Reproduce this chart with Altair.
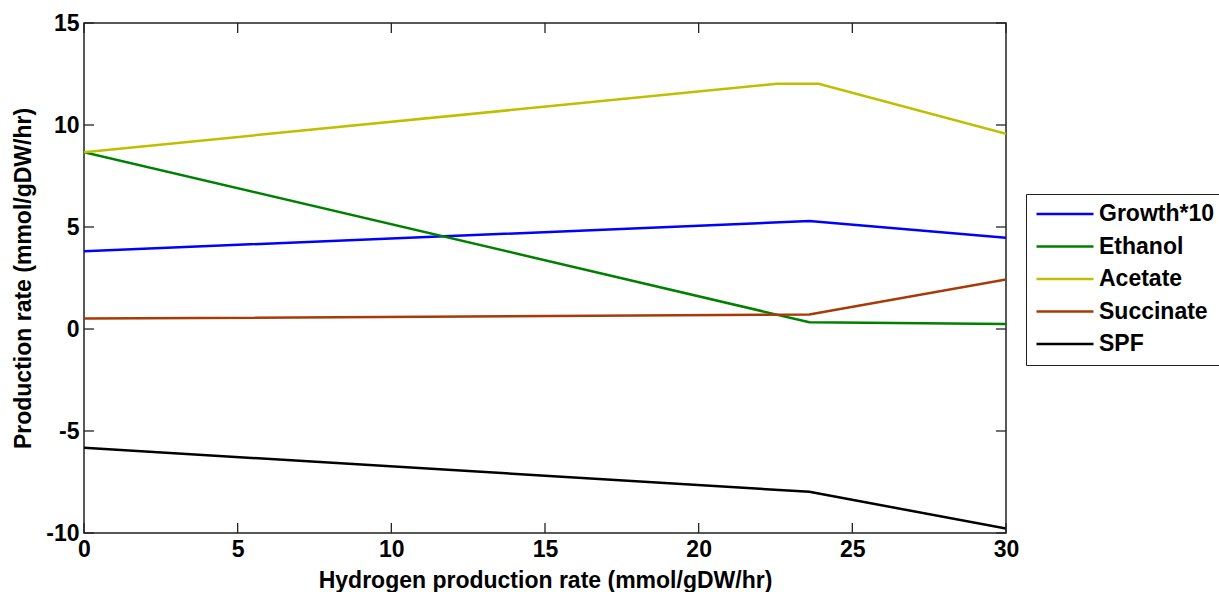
import altair as alt
import pandas as pd

# ---- data ----
series_names = ["Growth*10", "Ethanol", "Acetate", "Succinate", "SPF"]
series_colors = ["#0000FF", "#008000", "#BFBF00", "#A83A06", "#000000"]

x_growth = [0, 23.6, 30]
y_growth = [3.81, 5.29, 4.47]

x_ethanol = [0, 23.6, 30]
y_ethanol = [8.67, 0.33, 0.25]

x_acetate = [0, 22.55, 23.9, 30]
y_acetate = [8.67, 12.02, 12.02, 9.57]

x_succinate = [0, 23.6, 30]
y_succinate = [0.51, 0.71, 2.43]

x_spf = [0, 23.6, 30]
y_spf = [-5.82, -7.98, -9.78]

x_ticks = [0, 5, 10, 15, 20, 25, 30]
y_ticks = [-10, -5, 0, 5, 10, 15]

x_title = "Hydrogen production rate (mmol/gDW/hr)"
y_title = "Production rate (mmol/gDW/hr)"

# ---- build tables ----
rows = []
for name, xs, ys in [
    ("Growth*10", x_growth, y_growth),
    ("Ethanol", x_ethanol, y_ethanol),
    ("Acetate", x_acetate, y_acetate),
    ("Succinate", x_succinate, y_succinate),
    ("SPF", x_spf, y_spf),
]:
    for i, (xv, yv) in enumerate(zip(xs, ys)):
        rows.append({"series": name, "x": xv, "y": yv, "i": i})
df = pd.DataFrame(rows)

xt = pd.DataFrame({"x": x_ticks})
yt = pd.DataFrame({"y": y_ticks})

W, H = 922, 510
FONT = "Liberation Sans"
FS = 23

xscale = alt.Scale(domain=[0, 30], nice=False, zero=False)
yscale = alt.Scale(domain=[-10, 15], nice=False, zero=False)

lines = alt.Chart(df).mark_line(strokeWidth=2.5, clip=True).encode(
    x=alt.X("x:Q", scale=xscale,
            axis=alt.Axis(title=x_title, values=x_ticks, ticks=False, domain=False,
                          grid=False, labelPadding=5, labelFlush=False,
                          labelExpr="'' + datum.value",
                          titleX=W / 2, titleY=47,
                          titleBaseline="middle", titleAlign="center")),
    y=alt.Y("y:Q", scale=yscale,
            axis=alt.Axis(title=y_title, values=y_ticks, ticks=False, domain=False,
                          grid=False, labelPadding=5, labelFlush=False,
                          labelExpr="'' + datum.value",
                          titleX=-61, titleY=H / 2,
                          titleBaseline="middle", titleAlign="center")),
    color=alt.Color("series:N",
                    scale=alt.Scale(domain=series_names, range=series_colors),
                    sort=series_names,
                    legend=alt.Legend(title=None, orient="none", legendX=942, legendY=171,
                                      symbolType="stroke", symbolSize=3250,
                                      symbolStrokeWidth=2.5, labelFontSize=FS,
                                      labelFont=FONT, labelFontWeight="bold",
                                      labelColor="black", labelOffset=4,
                                      symbolOffset=0, clipHeight=22,
                                      rowPadding=9.5, padding=9,
                                      strokeColor="#222222", fillColor="white",
                                      labelLimit=300)),
    order="i:Q",
)

tick_color = "#222222"
bottom_ticks = alt.Chart(xt).mark_rule(color=tick_color, strokeWidth=1.3).encode(
    x=alt.X("x:Q", scale=xscale), y=alt.value(H), y2=alt.value(H - 10))
top_ticks = alt.Chart(xt).mark_rule(color=tick_color, strokeWidth=1.3).encode(
    x=alt.X("x:Q", scale=xscale), y=alt.value(0), y2=alt.value(10))
left_ticks = alt.Chart(yt).mark_rule(color=tick_color, strokeWidth=1.3).encode(
    y=alt.Y("y:Q", scale=yscale), x=alt.value(0), x2=alt.value(10))
right_ticks = alt.Chart(yt).mark_rule(color=tick_color, strokeWidth=1.3).encode(
    y=alt.Y("y:Q", scale=yscale), x=alt.value(W), x2=alt.value(W - 10))

chart = alt.layer(lines, bottom_ticks, top_ticks, left_ticks, right_ticks).properties(
    width=W, height=H,
    autosize=alt.AutoSizeParams(type="none"),
    padding={"left": 84, "top": 23, "right": 213, "bottom": 59},
    background="white",
).configure_view(
    stroke="#222222", strokeWidth=1.5
).configure_axis(
    labelFont=FONT, labelFontSize=FS, labelFontWeight="bold", labelColor="black",
    titleFont=FONT, titleFontSize=FS, titleFontWeight="bold", titleColor="black",
)

chart.save("out.html", embed_options={"renderer": "svg", "actions": False})
